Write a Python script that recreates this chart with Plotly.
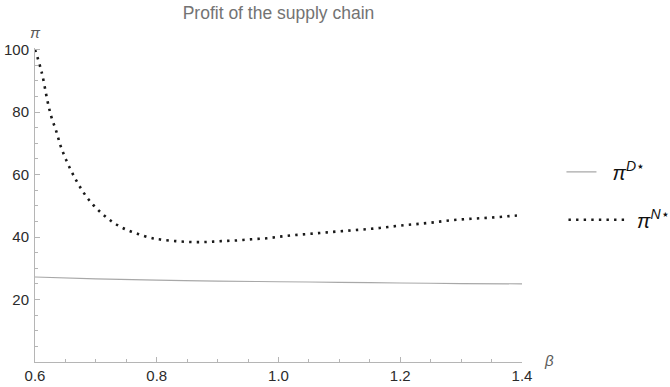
import plotly.graph_objects as go

# beta grid and supply-chain profits
beta_n = [0.600, 0.611, 0.621, 0.627, 0.635, 0.642, 0.651, 0.662, 0.674, 0.688,
          0.705, 0.724, 0.745, 0.769, 0.793, 0.806, 0.831, 0.856, 0.881, 0.906,
          0.931, 0.956, 0.981, 1.006, 1.031, 1.056, 1.080, 1.105, 1.131, 1.156,
          1.180, 1.206, 1.230, 1.255, 1.280, 1.305, 1.330, 1.355, 1.380, 1.400]
profit_n = [100.0, 92.7, 83.1, 78.4, 73.8, 69.2, 64.7, 60.2, 56.0, 52.0,
            48.4, 45.3, 42.8, 41.0, 39.6, 39.2, 38.7, 38.4, 38.4, 38.7,
            38.9, 39.3, 39.6, 40.2, 40.7, 41.1, 41.5, 41.9, 42.3, 42.7,
            43.2, 43.8, 44.2, 44.7, 45.3, 45.7, 46.0, 46.3, 46.7, 47.0]

beta_d = [0.6, 0.7, 0.8, 0.9, 1.0, 1.1, 1.2, 1.3, 1.4]
profit_d = [27.2, 26.6, 26.2, 25.9, 25.7, 25.5, 25.3, 25.1, 25.0]

x_ticks = [0.6, 0.8, 1.0, 1.2, 1.4]
x_tick_labels = ["0.6", "0.8", "1.0", "1.2", "1.4"]
y_ticks = [20, 40, 60, 80, 100]

sans = "Liberation Sans, Arial, sans-serif"
axis_grey = "#b5b5b5"
label_grey = "#5a5a5a"
tick_font = dict(family=sans, size=15, color="#2b2b2b")
legend_font = dict(family=sans, size=20, color="#111")

fig = go.Figure()

fig.add_trace(go.Scatter(
    x=beta_d, y=profit_d, mode="lines", line_shape="spline",
    line=dict(color="#a8a8a8", width=1.1),
    name="  <i>π</i><sup><i>D</i>⋆</sup>", legend="legend",
))
fig.add_trace(go.Scatter(
    x=beta_n, y=profit_n, mode="lines", line_shape="spline",
    line=dict(color="#1a1a1a", width=2.6, dash="2.4px,5.2px"),
    name=" <i>π</i><sup><i>N</i>⋆</sup>", legend="legend2",
    cliponaxis=False,
))

fig.update_layout(
    width=670, height=387,
    margin=dict(l=35, r=148, t=48, b=25),
    paper_bgcolor="white", plot_bgcolor="white",
    title=dict(text="Profit of the supply chain", x=0.5, xref="paper", xanchor="center",
               y=0.967, yanchor="middle",
               font=dict(family=sans, size=17.5, color="#737373")),
    legend=dict(xref="container", yref="container", x=0.838, y=0.556, xanchor="left", yanchor="middle",
                font=legend_font, bgcolor="rgba(0,0,0,0)", itemwidth=30),
    legend2=dict(xref="container", yref="container", x=0.841, y=0.432, xanchor="left", yanchor="middle",
                 font=legend_font, bgcolor="rgba(0,0,0,0)", itemwidth=58),
    showlegend=True,
)

fig.update_xaxes(
    range=[0.6, 1.4], tickvals=x_ticks, ticktext=x_tick_labels, automargin=False,
    showgrid=False, zeroline=False, showline=True, linecolor=axis_grey, linewidth=1,
    ticks="inside", ticklen=5, tickcolor=axis_grey, tickwidth=1, tickfont=tick_font,
    minor=dict(dtick=0.05, tick0=0.6, ticks="inside", ticklen=3, tickcolor=axis_grey, tickwidth=1),
)
fig.update_yaxes(
    range=[0, 100.5], tickvals=y_ticks, automargin=False,
    showgrid=False, zeroline=False, showline=True, linecolor=axis_grey, linewidth=1,
    ticks="inside", ticklen=5, tickcolor=axis_grey, tickwidth=1, tickfont=tick_font,
    ticklabelstandoff=2,
    minor=dict(dtick=5, tick0=0, ticks="inside", ticklen=3, tickcolor=axis_grey, tickwidth=1),
)

# axis variable names at the ends of the axes
fig.add_annotation(text="<i>π</i>", xref="paper", yref="paper", x=0, y=1.05,
                   xanchor="center", yanchor="middle", showarrow=False,
                   font=dict(family=sans, size=15, color=label_grey))
fig.add_annotation(text="<i>β</i>", xref="paper", yref="paper", x=1.055, y=0.006,
                   xanchor="center", yanchor="middle", showarrow=False,
                   font=dict(family=sans, size=15, color=label_grey))

fig.write_html("out.html")
